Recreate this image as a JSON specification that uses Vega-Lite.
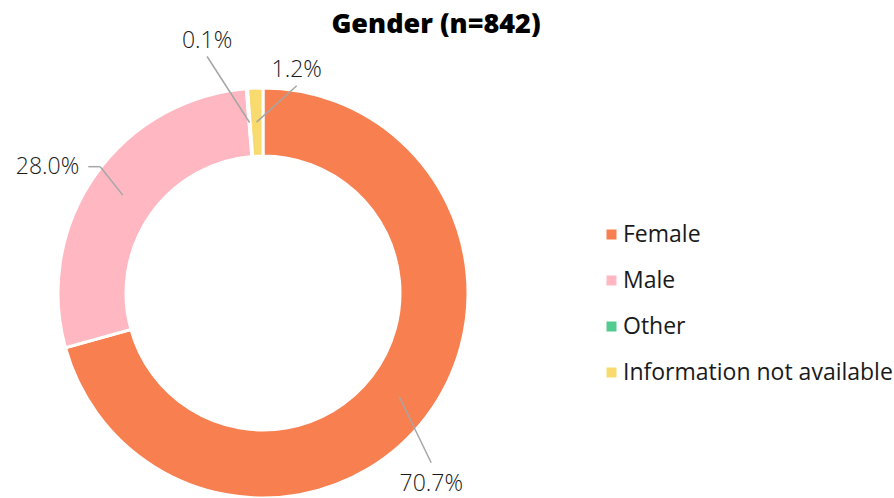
{
  "$schema": "https://vega.github.io/schema/vega-lite/v6.json",
  "width": 408,
  "height": 408,
  "autosize": {"type": "none"},
  "padding": {"left": 59, "top": 89, "right": 427, "bottom": 1},
  "background": "white",
  "title": {"text": "Gender (n=842)", "fontSize": 27, "fontWeight": 800, "font": "Open Sans", "anchor": "middle", "frame": "group", "dx": 173, "offset": -9, "color": "#000000"},
  "config": {"view": {"stroke": null}},
  "data": {"values": [
    {"category": "Female", "percent": 70.7, "ord": 1},
    {"category": "Male", "percent": 28.0, "ord": 2},
    {"category": "Other", "percent": 0.1, "ord": 3},
    {"category": "Information not available", "percent": 1.2, "ord": 4}
  ]},
  "transform": [
    {"window": [{"op": "sum", "field": "percent", "as": "cum"}], "sort": [{"field": "ord"}], "frame": [null, 0]},
    {"calculate": "format(datum.percent, '.1f') + '%'", "as": "label"},
    {"calculate": "(datum.cum - datum.percent / 2) * PI / 50", "as": "mid"},
    {"calculate": "datum.mid + (datum.category == 'Female' ? 8 : datum.category == 'Male' ? 2.9 : datum.category == 'Other' ? -8.8 : 11.4) * PI / 180", "as": "ea"},
    {"calculate": "datum.category == 'Female' ? 239 : datum.category == 'Male' ? 206 : datum.category == 'Other' ? 243 : 210", "as": "er"},
    {"calculate": "171 * sin(datum.mid)", "as": "sx"},
    {"calculate": "171 * cos(datum.mid)", "as": "sy"},
    {"calculate": "datum.er * sin(datum.ea)", "as": "ex"},
    {"calculate": "datum.er * cos(datum.ea)", "as": "ey"},
    {"calculate": "abs(datum.ex) > abs(datum.ey)", "as": "side"},
    {"calculate": "datum.side ? (datum.ex < 0 ? datum.ex - 12 : datum.ex + 12) : datum.ex", "as": "hx"},
    {"calculate": "datum.side ? (datum.ex < 0 ? datum.hx - 9 : datum.hx + 9) : datum.ex", "as": "lx"},
    {"calculate": "datum.side ? datum.ey : (datum.ey > 0 ? datum.ey + 16 : datum.ey - 21)", "as": "ly"}
  ],
  "layer": [
    {
      "mark": {"type": "arc", "outerRadius": 205, "innerRadius": 137, "stroke": "white", "strokeWidth": 3},
      "encoding": {
        "theta": {"field": "percent", "type": "quantitative", "stack": true},
        "order": {"field": "ord", "type": "quantitative"},
        "color": {
          "field": "category",
          "type": "nominal",
          "scale": {
            "domain": ["Female", "Male", "Other", "Information not available"],
            "range": ["#F77F50", "#FFB8C2", "#52CC8E", "#F9DA6E"]
          },
          "legend": {
            "title": null,
            "orient": "none",
            "legendX": 541,
            "legendY": 134,
            "symbolType": "square",
            "symbolSize": 100,
            "symbolStrokeWidth": 0,
            "labelFontSize": 23,
            "labelFont": "Open Sans",
            "labelColor": "#1a1a1a",
            "rowPadding": 22,
            "labelOffset": 0,
            "labelLimit": 400
          }
        }
      }
    },
    {
      "mark": {"type": "rule", "color": "#a6a6a6", "strokeWidth": 1.5},
      "encoding": {
        "x": {"field": "sx", "type": "quantitative", "scale": {"domain": [-204, 204], "nice": false, "zero": false}, "axis": null},
        "y": {"field": "sy", "type": "quantitative", "scale": {"domain": [-204, 204], "nice": false, "zero": false}, "axis": null},
        "x2": {"field": "ex"},
        "y2": {"field": "ey"}
      }
    },
    {
      "mark": {"type": "rule", "color": "#a6a6a6", "strokeWidth": 1.5},
      "encoding": {
        "x": {"field": "ex", "type": "quantitative"},
        "y": {"field": "ey", "type": "quantitative"},
        "x2": {"field": "hx"},
        "y2": {"field": "ey"}
      }
    },
    {
      "mark": {
        "type": "text",
        "font": "Open Sans",
        "fontSize": 23,
        "fontWeight": 300,
        "color": "#1a1a1a",
        "baseline": "middle",
        "align": {"expr": "datum.side ? (datum.ex < 0 ? 'right' : 'left') : 'center'"}
      },
      "encoding": {
        "x": {"field": "lx", "type": "quantitative"},
        "y": {"field": "ly", "type": "quantitative"},
        "text": {"field": "label", "type": "nominal"}
      }
    }
  ]
}
